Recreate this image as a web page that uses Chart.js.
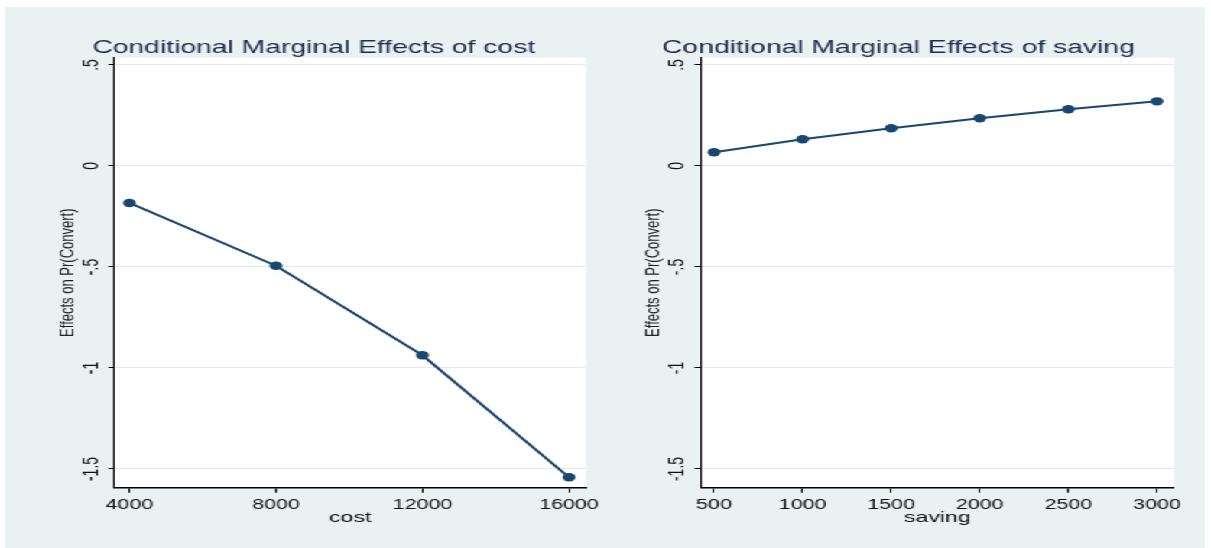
<!DOCTYPE html>
<html>
<head>
<meta charset="utf-8">
<title>Conditional Marginal Effects</title>
<script src="https://cdn.jsdelivr.net/npm/chart.js@4.4.3/dist/chart.umd.min.js"></script>
<style>
  html, body { margin: 0; padding: 0; background: #fff; }
  body { width: 1211px; height: 548px; position: relative; overflow: hidden; }
  #bg { position: absolute; left: 5px; top: 7px; width: 1200px; height: 541px; background: #e9f1f3; }
  /* the source graph is stretched sideways, so draw narrow and widen */
  #wrap { position: absolute; left: 0; top: 0; width: 792px; height: 548px;
          transform: scaleX(1.529); transform-origin: 0 0; }
  #wrap canvas { position: absolute; top: 0; }
  #costChart { left: 0; }
  #savingChart { left: 396px; }
</style>
</head>
<body>
<div id="bg"></div>
<div id="wrap">
  <canvas id="costChart" width="396" height="548"></canvas>
  <canvas id="savingChart" width="396" height="548"></canvas>
</div>
<script>
const costValues = [4000, 8000, 12000, 16000];
const costEffects = [-0.183, -0.494, -0.937, -1.541];
const savingValues = [500, 1000, 1500, 2000, 2500, 3000];
const savingEffects = [0.068, 0.132, 0.187, 0.236, 0.281, 0.320];

const yTickValues = [0.5, 0, -0.5, -1, -1.5];
const yTickLabels = ['.5', '0', '-.5', '-1', '-1.5'];
const costTicks = [4000, 8000, 12000, 16000];
const savingTicks = [500, 1000, 1500, 2000, 2500, 3000];

const FONT = '"Liberation Sans", Arial, sans-serif';
const NAVY = '#1a476f';
const TITLE_COLOR = '#1e2a4a';

// white plot region
const plotBg = {
  id: 'plotBg',
  beforeDraw(chart) {
    const { ctx, chartArea: a } = chart;
    ctx.save();
    ctx.fillStyle = '#fff';
    ctx.fillRect(a.left, a.top, a.right - a.left, a.bottom - a.top);
    ctx.restore();
  }
};

// Stata puts the title left of the plot region, so draw it ourselves
const panelTitle = {
  id: 'panelTitle',
  afterDraw(chart, args, opts) {
    const ctx = chart.ctx;
    ctx.save();
    ctx.font = '18.5px ' + FONT;
    ctx.fillStyle = TITLE_COLOR;
    ctx.textBaseline = 'alphabetic';
    ctx.textAlign = 'left';
    ctx.fillText(opts.text, chart.chartArea.left + opts.shift, chart.chartArea.top - 5);
    ctx.restore();
  }
};

function makePanel(id, title, titleShift, xs, ys, xTicks, xMin, xMax, xTitle, padLeft, padRight) {
  return new Chart(document.getElementById(id), {
    type: 'line',
    data: {
      datasets: [{
        data: xs.map((x, i) => ({ x: x, y: ys[i] })),
        borderColor: NAVY,
        backgroundColor: NAVY,
        borderWidth: 2,
        pointRadius: 4.2,
        pointHoverRadius: 4.2,
        pointBorderWidth: 0,
        tension: 0
      }]
    },
    options: {
      responsive: false,
      animation: false,
      events: [],
      layout: { padding: { left: padLeft, right: padRight, top: 57.7, bottom: 10.3 } },
      plugins: {
        legend: { display: false },
        tooltip: { enabled: false },
        panelTitle: { text: title, shift: titleShift }
      },
      scales: {
        x: {
          type: 'linear',
          min: xMin,
          max: xMax,
          afterBuildTicks: s => { s.ticks = xTicks.map(v => ({ value: v })); },
          afterFit: s => { s.height = 50; },
          grid: { drawOnChartArea: false, drawTicks: true, tickLength: 5, tickColor: '#000', tickWidth: 1 },
          border: { color: '#000', width: 1.5 },
          ticks: {
            color: '#111', font: { family: FONT, size: 14 }, padding: 4,
            maxRotation: 0, autoSkip: false, callback: v => String(v)
          },
          title: {
            display: true, text: xTitle, color: '#111',
            font: { family: FONT, size: 15 }, padding: { top: 0, bottom: 11 }
          }
        },
        y: {
          type: 'linear',
          min: -1.5926,
          max: 0.536,
          afterBuildTicks: s => { s.ticks = yTickValues.map(v => ({ value: v })); },
          afterFit: s => { s.width = 40; },
          grid: { color: '#e4ebee', lineWidth: 1, drawTicks: true, tickLength: 4, tickColor: '#000' },
          border: { color: '#000', width: 1 },
          ticks: {
            color: '#111', font: { family: FONT, size: 14 }, padding: -1,
            minRotation: 90, maxRotation: 90, crossAlign: 'center', autoSkip: false,
            callback: v => yTickLabels[yTickValues.indexOf(v)]
          },
          title: {
            display: true, text: 'Effects on Pr(Convert)', color: '#222',
            font: { family: FONT, size: 13 }, padding: { top: 1.7, bottom: 0 }
          }
        }
      }
    },
    plugins: [plotBg, panelTitle]
  });
}

makePanel('costChart', 'Conditional Marginal Effects of cost', -14.5,
  costValues, costEffects, costTicks, 3594, 16460, 'cost', 34.9, 10.1);
makePanel('savingChart', 'Conditional Marginal Effects of saving', -25.3,
  savingValues, savingEffects, savingTicks, 425, 3096, 'saving', 22.3, 24.2);
</script>
</body>
</html>
